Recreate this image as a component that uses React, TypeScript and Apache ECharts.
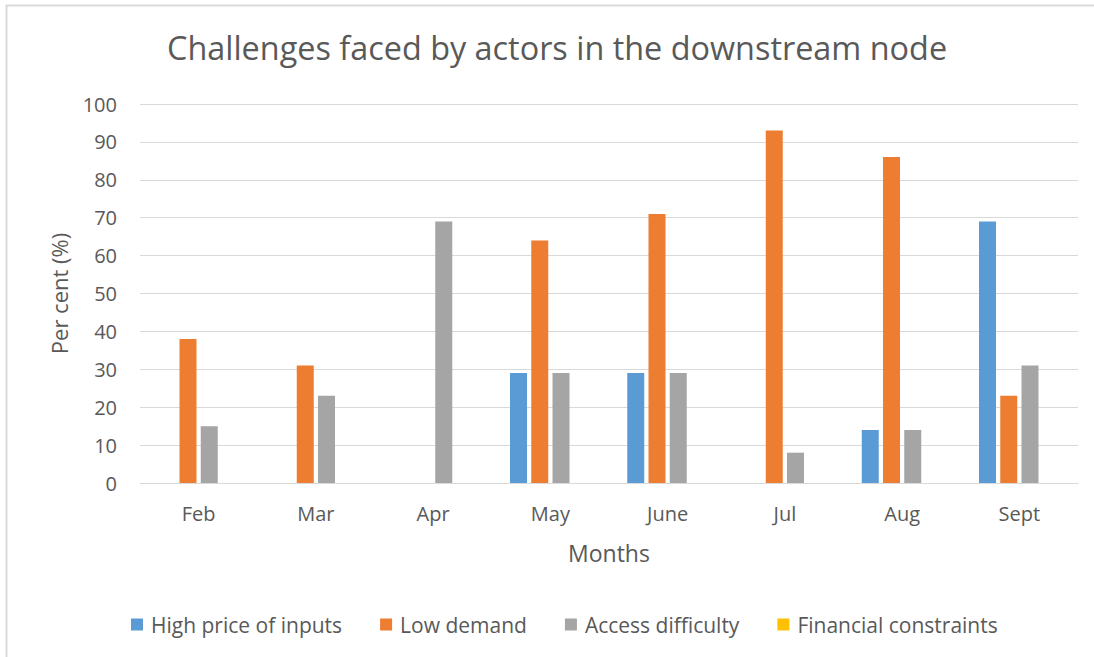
import React, { useEffect, useRef } from "react";
import * as echarts from "echarts";

const categories = ["Feb", "Mar", "Apr", "May", "June", "Jul", "Aug", "Sept"];
const highPrice = [0, 0, 0, 29, 29, 0, 14, 69];
const lowDemand = [38, 31, 0, 64, 71, 93, 86, 23];
const accessDifficulty = [15, 23, 69, 29, 29, 8, 14, 31];
const financialConstraints = [0, 0, 0, 0, 0, 0, 0, 0];
const seriesNames = ["High price of inputs", "Low demand", "Access difficulty", "Financial constraints"];
const colors = ["#5B9BD5", "#ED7D31", "#A5A5A5", "#FFC000"];

const FONT = "'Open Sans', 'Noto Sans', sans-serif";
const TEXT = "#595959";

export default function App() {
  const ref = useRef<HTMLDivElement>(null);
  useEffect(() => {
    document.body.style.margin = "0";
    const chart = echarts.init(ref.current!, null, { renderer: "svg" });
    const data = [highPrice, lowDemand, accessDifficulty, financialConstraints];
    chart.setOption({
      animation: false,
      backgroundColor: "#ffffff",
      textStyle: { fontFamily: FONT, color: TEXT },
      title: {
        text: "Challenges faced by actors in the downstream node",
        left: 162,
        top: 26,
        textStyle: { fontFamily: FONT, fontSize: 32.4, fontWeight: "normal", color: TEXT },
      },
      graphic: [
        {
          type: "rect",
          shape: { x: 6.5, y: 5.5, width: 1100, height: 700 },
          style: { fill: "none", stroke: "#d9d9d9", lineWidth: 2 },
          silent: true,
        },
      ],
      legend: {
        top: 609,
        left: 126,
        itemWidth: 12,
        itemHeight: 12,
        itemGap: 38,
        icon: "rect",
        textStyle: { fontFamily: FONT, fontSize: 21, color: TEXT, padding: [0, 0, 0, 3] },
        data: seriesNames,
      },
      grid: { left: 140, right: 16, top: 104, bottom: 174, containLabel: false },
      xAxis: {
        type: "category",
        data: categories,
        name: "Months",
        nameLocation: "middle",
        nameGap: 58,
        nameTextStyle: { fontFamily: FONT, fontSize: 23, color: TEXT },
        axisLine: { lineStyle: { color: "#d9d9d9", width: 1 } },
        axisTick: { show: false },
        axisLabel: { fontFamily: FONT, fontSize: 20, color: TEXT, margin: 20 },
      },
      yAxis: {
        type: "value",
        min: 0,
        max: 100,
        interval: 10,
        name: "Per cent (%)",
        nameLocation: "middle",
        nameGap: 70,
        nameRotate: 90,
        nameTextStyle: { fontFamily: FONT, fontSize: 22, color: TEXT },
        axisLine: { show: false },
        axisTick: { show: false },
        splitLine: { lineStyle: { color: "#d9d9d9", width: 1 } },
        axisLabel: { fontFamily: FONT, fontSize: 20, color: TEXT, margin: 23 },
      },
      series: seriesNames.map((name, i) => ({
        name,
        type: "bar",
        data: data[i],
        barWidth: 17,
        barGap: "25%",
        itemStyle: { color: colors[i] },
      })),
    });
    return () => chart.dispose();
  }, []);
  return <div ref={ref} style={{ width: 1094, height: 657 }} />;
}
